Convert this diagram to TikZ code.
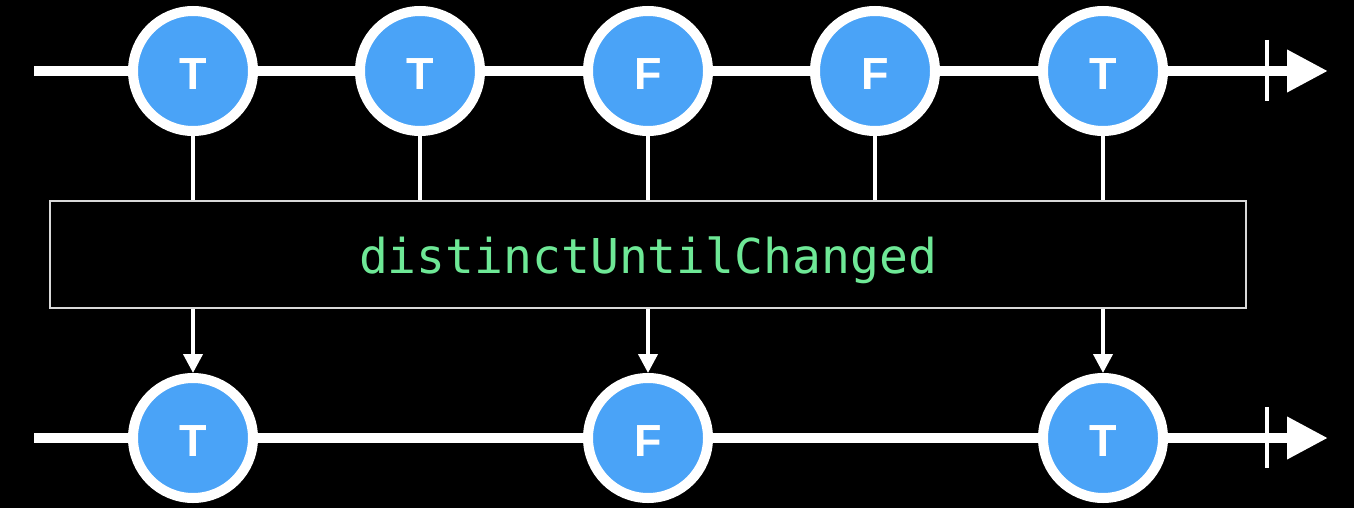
\documentclass[tikz,border=0pt]{standalone}
\usepackage{fontspec}
\usetikzlibrary{arrows.meta}
\newfontfamily\marblefont{Liberation Sans}
\newfontfamily\opfont{DejaVu Sans Mono}
\definecolor{marbleblue}{RGB}{74,163,247}
\definecolor{opgreen}{RGB}{110,232,150}
\tikzset{
  marble/.style={circle, fill=marbleblue, draw=white, line width=10pt, minimum size=120pt, inner sep=0pt, text=white, text height=36.6pt, text depth=0pt, font=\marblefont\bfseries\fontsize{45}{54}\selectfont},
  timeline/.style={white, line width=10pt, -{Triangle[length=41pt,width=40pt]}},
  endtick/.style={white, line width=4pt},
  feed/.style={white, line width=4pt},
  outarrow/.style={white, line width=4pt, -{Triangle[length=19pt,width=19pt]}},
  opbox/.style={draw=white!85!black, line width=1.5pt, fill=black, minimum width=1196pt, minimum height=107pt, inner sep=0pt, text height=37pt, text depth=0pt, text=opgreen, font=\opfont\fontsize{48}{56}\selectfont}
}
\begin{document}
\begin{tikzpicture}[x=1pt,y=-1pt]
\fill[black] (0,0) rectangle (1354,508);
\useasboundingbox (0,0) rectangle (1354,508);
% top timeline
\coordinate (ts) at (34,71);
\coordinate (te) at (1328,71);
\coordinate (tt1) at (1267,40);
\coordinate (tt2) at (1267,101);
\draw[timeline] (ts) -- (te);
\draw[endtick] (tt1) -- (tt2);
% bottom timeline
\coordinate (bs) at (34,438);
\coordinate (be) at (1328,438);
\coordinate (bt1) at (1267,407);
\coordinate (bt2) at (1267,468);
\draw[timeline] (bs) -- (be);
\draw[endtick] (bt1) -- (bt2);
% operator box
\node[opbox] (op) at (648,254.5) {distinctUntilChanged};
% top marbles
\node[marble] (a1) at (193,71) {T};
\node[marble] (a2) at (420,71) {T};
\node[marble] (a3) at (648,71) {F};
\node[marble] (a4) at (875,71) {F};
\node[marble] (a5) at (1103,71) {T};
% bottom marbles
\node[marble] (b1) at (193,438) {T};
\node[marble] (b3) at (648,438) {F};
\node[marble] (b5) at (1103,438) {T};
% feeds into operator
\foreach \n in {a1,a2,a3,a4,a5}{
  \draw[feed] (\n.south) -- (\n.south |- op.north);
}
% outputs
\draw[outarrow] (b1.north |- op.south) -- (b1.north);
\draw[outarrow] (b3.north |- op.south) -- (b3.north);
\draw[outarrow] (b5.north |- op.south) -- (b5.north);
\end{tikzpicture}
\end{document}
